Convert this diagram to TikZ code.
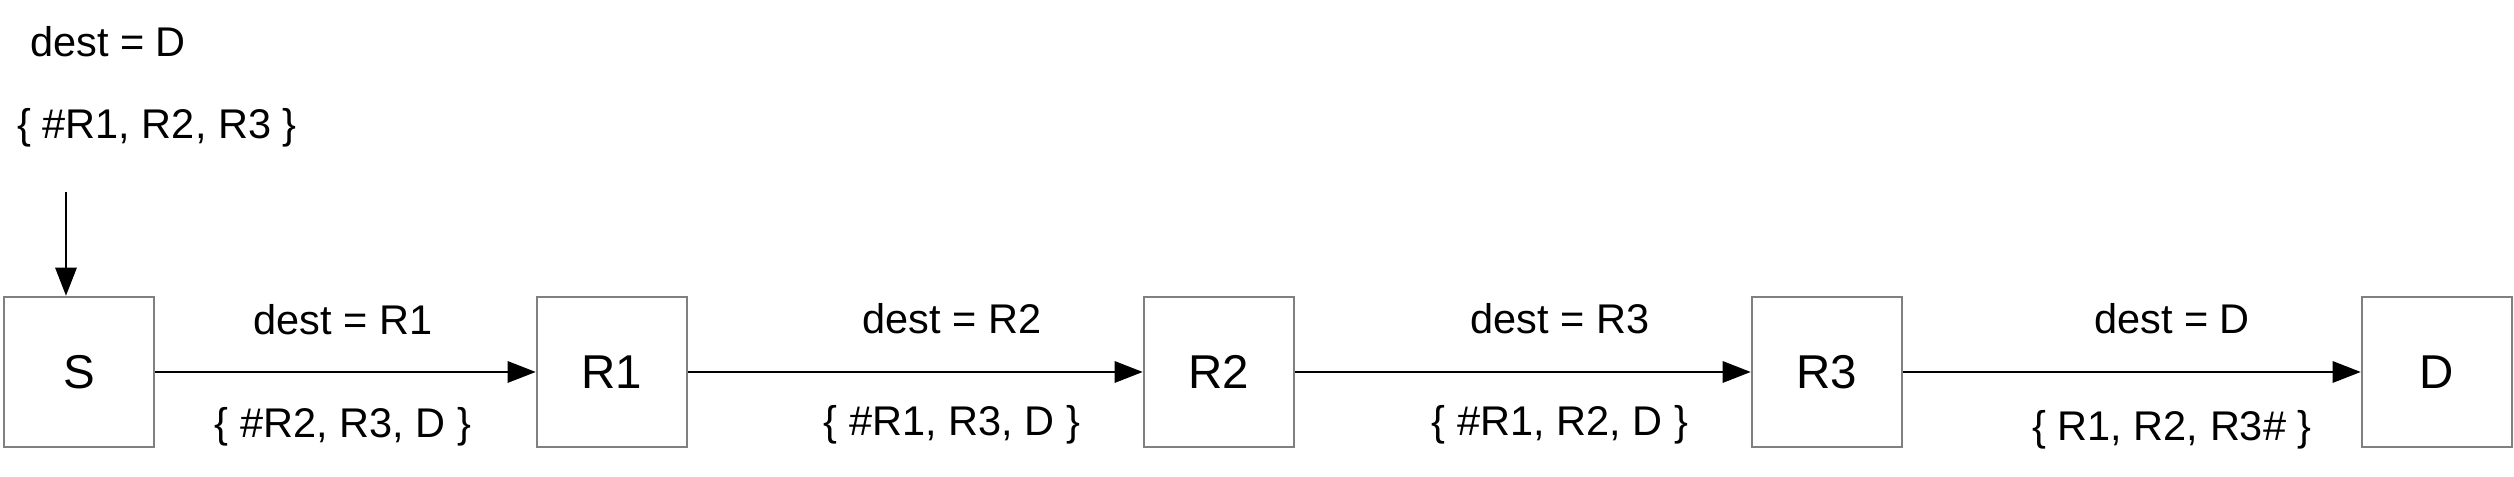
\documentclass[tikz,border=0pt]{standalone}
\usepackage{fontspec}
\setmainfont{Liberation Sans}
\usetikzlibrary{arrows.meta}

\begin{document}
\begin{tikzpicture}[x=0.01cm, y=0.01cm, >={Triangle[length=8pt, width=6pt]},
    router/.style={draw=gray, line width=0.65pt, minimum size=1.5cm, inner sep=0pt, font=\fontsize{13.5}{15}\selectfont},
    hop/.style={->, line width=0.8pt},
    lbl/.style={font=\fontsize{11.8}{14}\selectfont}]
    \useasboundingbox (0,0) rectangle (2514,477);

    % routers along the path
    \node[router] (S)  at (79,105)   {S};
    \node[router] (R1) at (612,105)  {R1};
    \node[router] (R2) at (1219,105) {R2};
    \node[router] (R3) at (1827,105) {R3};
    \node[router] (D)  at (2437,105) {D};

    % packet handed to S
    \node[lbl] (src dest) at (108,435) {dest = D};
    \node[lbl] (src list) at (157,349) {\{ \#R1, R2, R3 \}};
    \coordinate (inject) at (66,285);
    \draw[hop] (inject) -- (inject |- S.north);

    % hops
    \draw[hop] (S)  -- (R1);
    \draw[hop] (R1) -- (R2);
    \draw[hop] (R2) -- (R3);
    \draw[hop] (R3) -- (D);

    \node[lbl] (dest1) at (343,157)  {dest = R1};
    \node[lbl] (list1) at (343,50)   {\{ \#R2, R3, D \}};
    \node[lbl] (dest2) at (952,158)  {dest = R2};
    \node[lbl] (list2) at (952,52)   {\{ \#R1, R3, D \}};
    \node[lbl] (dest3) at (1560,158) {dest = R3};
    \node[lbl] (list3) at (1560,52)  {\{ \#R1, R2, D \}};
    \node[lbl] (dest4) at (2172,158) {dest = D};
    \node[lbl] (list4) at (2172,47)  {\{ R1, R2, R3\# \}};
\end{tikzpicture}
\end{document}
